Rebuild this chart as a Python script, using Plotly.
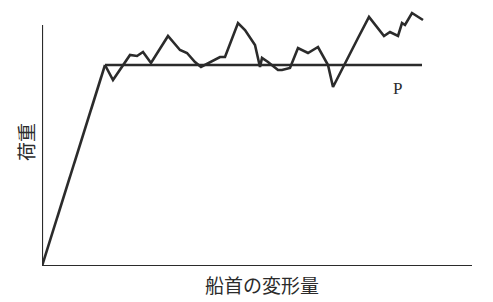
import plotly.graph_objects as go

# Elastic rise then ideal plateau load P
elastic_x = [0, 63]
elastic_y = [0, 201]
plateau_x = [63, 380]
plateau_y = [201, 201]

# Fluctuating measured load curve
wave_x = [63, 71, 88, 95, 101, 109, 126, 138, 145, 153, 159, 170, 178, 183, 196, 203,
          213, 218, 220, 226, 236, 240, 248, 256, 266, 276, 286, 291, 303, 316, 327,
          342, 348, 356, 360, 363, 370, 381]
wave_y = [201, 186, 211, 210, 214, 203, 230, 216, 213, 204, 199, 205, 209, 209, 243, 236,
          221, 199, 208, 204, 196, 196, 198, 218, 213, 219, 201, 179, 203, 228, 249,
          230, 234, 230, 243, 241, 253, 246]

x_title = "船首の変形量"
y_title = "荷重"
p_label = "P"

ink = "#2b2b2b"
cjk = "Noto Sans CJK JP, Noto Sans CJK SC, sans-serif"
fig = go.Figure()
for xs, ys in [(elastic_x, elastic_y), (plateau_x, plateau_y), (wave_x, wave_y)]:
    fig.add_trace(go.Scatter(x=xs, y=ys, mode="lines",
                             line=dict(color=ink, width=2.6), hoverinfo="skip",
                             showlegend=False))

# axes lines
fig.add_shape(type="line", x0=0, x1=0, y0=0, y1=241, xref="x", yref="y",
              line=dict(color=ink, width=2.2))
fig.add_shape(type="line", x0=0, x1=430, y0=0, y1=0, xref="x", yref="y",
              line=dict(color=ink, width=2.2))

fig.add_annotation(text=y_title, x=-0.0395, xref="paper", y=0.484, yref="paper",
                   xanchor="center", yanchor="middle",
                   textangle=-90, showarrow=False,
                   font=dict(family=cjk, size=19, color=ink))
fig.add_annotation(text=x_title, x=0.512, xref="paper", y=-0.072, yref="paper",
                   xanchor="center", yanchor="middle", borderpad=0,
                   showarrow=False,
                   font=dict(family=cjk, size=19, color=ink))
fig.add_annotation(text=p_label, x=355, xref="x", y=178, yref="y",
                   xanchor="center", yanchor="middle",
                   showarrow=False,
                   font=dict(family="Liberation Serif", size=17, color=ink))

fig.update_xaxes(range=[0, 430], visible=False, fixedrange=True)
fig.update_yaxes(range=[0, 256], visible=False, fixedrange=True)
# page body has an 8px default margin, so the figure is offset by 8px
fig.update_layout(width=477, height=294, margin=dict(l=34, r=13, t=2, b=36),
                  plot_bgcolor="white", paper_bgcolor="white")
fig.write_html("out.html")
